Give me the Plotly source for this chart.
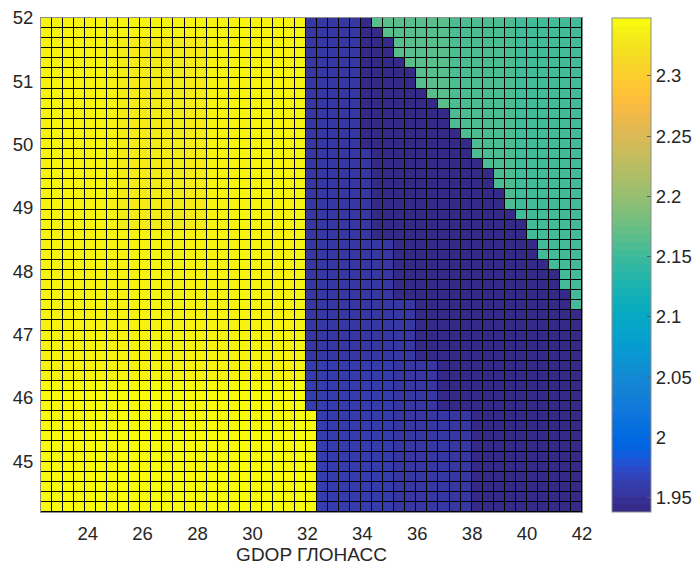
import numpy as np
import plotly.graph_objects as go

# ---- data ----
lon_start, lon_end, n_lon_edges = 22.3, 42.0, 50
lat_start, lat_end, n_lat_edges = 44.2, 52.0, 50

# cell level codes -> GDOP value
level_values = {
    "Z": 2.345, "Y": 2.339, "y": 2.330,   # yellow
    "A": 1.958, "B": 1.951, "C": 1.942,   # blue
    "g": 2.165, "h": 2.158, "t": 2.152,   # teal
}

# rows from top (lat 52) to bottom, run-length encoded (code + count)
rows_top_to_bottom = [
    "Y24 B5 C1 g7 h6 t6",
    "Y24 B5 C2 g6 h6 t6",
    "Y7 y8 Y9 B5 C3 g5 h6 t6",
    "Y7 y8 Y9 B5 C3 g5 h6 t6",
    "Y7 y8 Y9 B5 C4 g4 h6 t6",
    "Y7 y8 Y9 B5 C5 g3 h6 t6",
    "Y7 y8 Y9 B5 C5 g3 h6 t6",
    "Y7 y8 Y9 B5 C6 g2 h6 t6",
    "Y7 y8 Y9 B5 C7 g1 h6 t6",
    "Y7 y8 Y9 B5 C8 h6 t6",
    "Y7 y8 Y9 B5 C8 h6 t6",
    "Y7 y8 Y9 B5 C9 h5 t6",
    "Y7 y8 Y9 B5 C10 h4 t6",
    "Y7 y8 Y9 B6 C9 h4 t6",
    "Y7 y8 Y9 B6 C10 h3 t6",
    "Y7 y8 Y9 B6 C11 h2 t6",
    "Y7 y8 Y9 B6 C11 h2 t6",
    "Y7 y8 Y9 B6 C12 h1 t6",
    "Y7 y8 Y9 B6 C12 h1 t6",
    "Y7 y8 Y9 B6 C13 t6",
    "Y7 y8 Y9 B6 C14 t5",
    "Y24 B6 C14 t5",
    "Y24 B8 C13 t4",
    "Y24 B8 C13 t4",
    "Y24 B8 C14 t3",
    "Y24 B8 C15 t2",
    "Y24 B8 C15 t2",
    "Y24 B8 C16 t1",
    "Y24 B10 C14 t1",
    "Y24 B10 C15",
    "Y24 B10 C15",
    "Y24 B10 C15",
    "Y24 B10 C15",
    "Y24 B10 C15",
    "Y24 A8 B4 C13",
    "Y24 A8 B4 C13",
    "Z24 A8 B4 C13",
    "Z24 A8 B4 C13",
    "Z24 A8 B4 C13",
    "Z25 A7 B7 C10",
    "Z25 A7 B7 C10",
    "Z25 A7 B7 C10",
    "Z25 A7 B7 C10",
    "Z25 A7 B7 C10",
    "Z25 A7 B7 C10",
    "Z25 A7 B7 C10",
    "Z25 A7 B7 C10",
    "Z25 A7 B7 C10",
    "Z25 A7 B7 C10",
]

x_tick_vals = [24, 26, 28, 30, 32, 34, 36, 38, 40, 42]
y_tick_vals = [45, 46, 47, 48, 49, 50, 51, 52]
cb_tick_vals = [1.95, 2.0, 2.05, 2.1, 2.15, 2.2, 2.25, 2.3]
cb_tick_text = ["1.95", "2", "2.05", "2.1", "2.15", "2.2", "2.25", "2.3"]
c_min, c_max = 1.938, 2.348
x_title = "GDOP ГЛОНАСС"

# ---- build matrix ----
def decode(row):
    out = []
    for tok in row.split():
        out += [level_values[tok[0]]] * int(tok[1:])
    assert len(out) == 49, (row, len(out))
    return out

z = np.array([decode(r) for r in rows_top_to_bottom[::-1]])
lon_edges = np.linspace(lon_start, lon_end, n_lon_edges)
lat_edges = np.linspace(lat_start, lat_end, n_lat_edges)

parula = [
    [0.2081,0.1663,0.5292],[0.2116,0.1898,0.5777],[0.2123,0.2138,0.6270],[0.2081,0.2386,0.6771],
    [0.1959,0.2645,0.7279],[0.1707,0.2919,0.7792],[0.1253,0.3242,0.8303],[0.0591,0.3598,0.8683],
    [0.0117,0.3875,0.8820],[0.0060,0.4086,0.8828],[0.0165,0.4266,0.8786],[0.0329,0.4430,0.8720],
    [0.0498,0.4586,0.8641],[0.0629,0.4737,0.8554],[0.0723,0.4887,0.8467],[0.0779,0.5040,0.8384],
    [0.0793,0.5200,0.8312],[0.0749,0.5375,0.8263],[0.0641,0.5570,0.8240],[0.0488,0.5772,0.8228],
    [0.0343,0.5966,0.8199],[0.0265,0.6137,0.8135],[0.0239,0.6287,0.8038],[0.0231,0.6418,0.7913],
    [0.0228,0.6535,0.7768],[0.0267,0.6642,0.7607],[0.0384,0.6743,0.7436],[0.0590,0.6838,0.7254],
    [0.0843,0.6928,0.7062],[0.1133,0.7015,0.6859],[0.1453,0.7098,0.6646],[0.1801,0.7177,0.6424],
    [0.2178,0.7250,0.6193],[0.2586,0.7317,0.5954],[0.3022,0.7376,0.5712],[0.3482,0.7424,0.5473],
    [0.3953,0.7459,0.5244],[0.4420,0.7481,0.5033],[0.4871,0.7491,0.4840],[0.5300,0.7491,0.4661],
    [0.5709,0.7485,0.4494],[0.6099,0.7473,0.4337],[0.6473,0.7456,0.4188],[0.6834,0.7435,0.4044],
    [0.7184,0.7411,0.3905],[0.7525,0.7384,0.3768],[0.7858,0.7356,0.3633],[0.8185,0.7327,0.3498],
    [0.8507,0.7299,0.3360],[0.8824,0.7274,0.3217],[0.9139,0.7258,0.3063],[0.9450,0.7261,0.2886],
    [0.9739,0.7314,0.2666],[0.9938,0.7455,0.2403],[0.9990,0.7653,0.2164],[0.9955,0.7861,0.1967],
    [0.9880,0.8066,0.1794],[0.9789,0.8271,0.1633],[0.9697,0.8481,0.1475],[0.9626,0.8705,0.1309],
    [0.9589,0.8949,0.1132],[0.9598,0.9218,0.0948],[0.9661,0.9514,0.0755],[0.9763,0.9831,0.0538],
]
cs = []
n = len(parula)
for i, c in enumerate(parula):
    col = "rgb(%d,%d,%d)" % tuple(round(v * 255) for v in c)
    cs.append([i / n, col])
    cs.append([(i + 1) / n, col])

font = "Liberation Sans, Arial, Helvetica, sans-serif"
txt = "rgb(38,38,38)"
frame = "rgb(140,140,140)"

# the page body has an 8px margin; lay out the figure relative to it
OFF = 8
W, H = 700 - OFF, 571 - OFF
L, T = 41 - OFF, 18 - OFF
pw, ph = 541, 494
R = W - L - pw
B = H - T - ph

fig = go.Figure(go.Heatmap(
    z=z, x=lon_edges, y=lat_edges,
    colorscale=cs, zmin=c_min, zmax=c_max,
    xgap=1, ygap=1,
    colorbar=dict(
        x=(612 - OFF - L) / pw, xanchor="left", xpad=0, ypad=0,
        y=0.5, yanchor="middle", len=1, lenmode="fraction",
        thickness=39, outlinewidth=1, outlinecolor=frame,
        tickmode="array", tickvals=cb_tick_vals, ticktext=cb_tick_text,
        ticks="inside", ticklen=4, tickcolor="rgb(90,90,90)",
        tickfont=dict(family=font, size=18.5, color=txt),
    ),
))

fig.update_layout(
    width=W, height=H,
    margin=dict(l=L, r=R, t=T, b=B, autoexpand=False),
    paper_bgcolor="white", plot_bgcolor="black",
    font=dict(family=font, size=18.5, color=txt),
)
fig.update_xaxes(
    range=[lon_start, lon_end], tickmode="array", tickvals=x_tick_vals,
    ticks="outside", ticklen=5, tickcolor="rgba(0,0,0,0)",
    showgrid=False, zeroline=False, automargin=False,
    ticklabeloverflow="allow",
    showline=True, linecolor=frame, linewidth=1, mirror=True,
    tickfont=dict(family=font, size=18.5, color=txt),
    title=dict(text=x_title, font=dict(family=font, size=19, color=txt), standoff=4),
)
fig.update_yaxes(
    range=[lat_start, lat_end + 1e-9], tickmode="array", tickvals=y_tick_vals,
    ticks="outside", ticklen=3, tickcolor="rgba(0,0,0,0)",
    showgrid=False, zeroline=False, automargin=False,
    ticklabeloverflow="allow",
    showline=True, linecolor=frame, linewidth=1, mirror=True,
    tickfont=dict(family=font, size=18.5, color=txt),
)

fig.write_html("out.html")
